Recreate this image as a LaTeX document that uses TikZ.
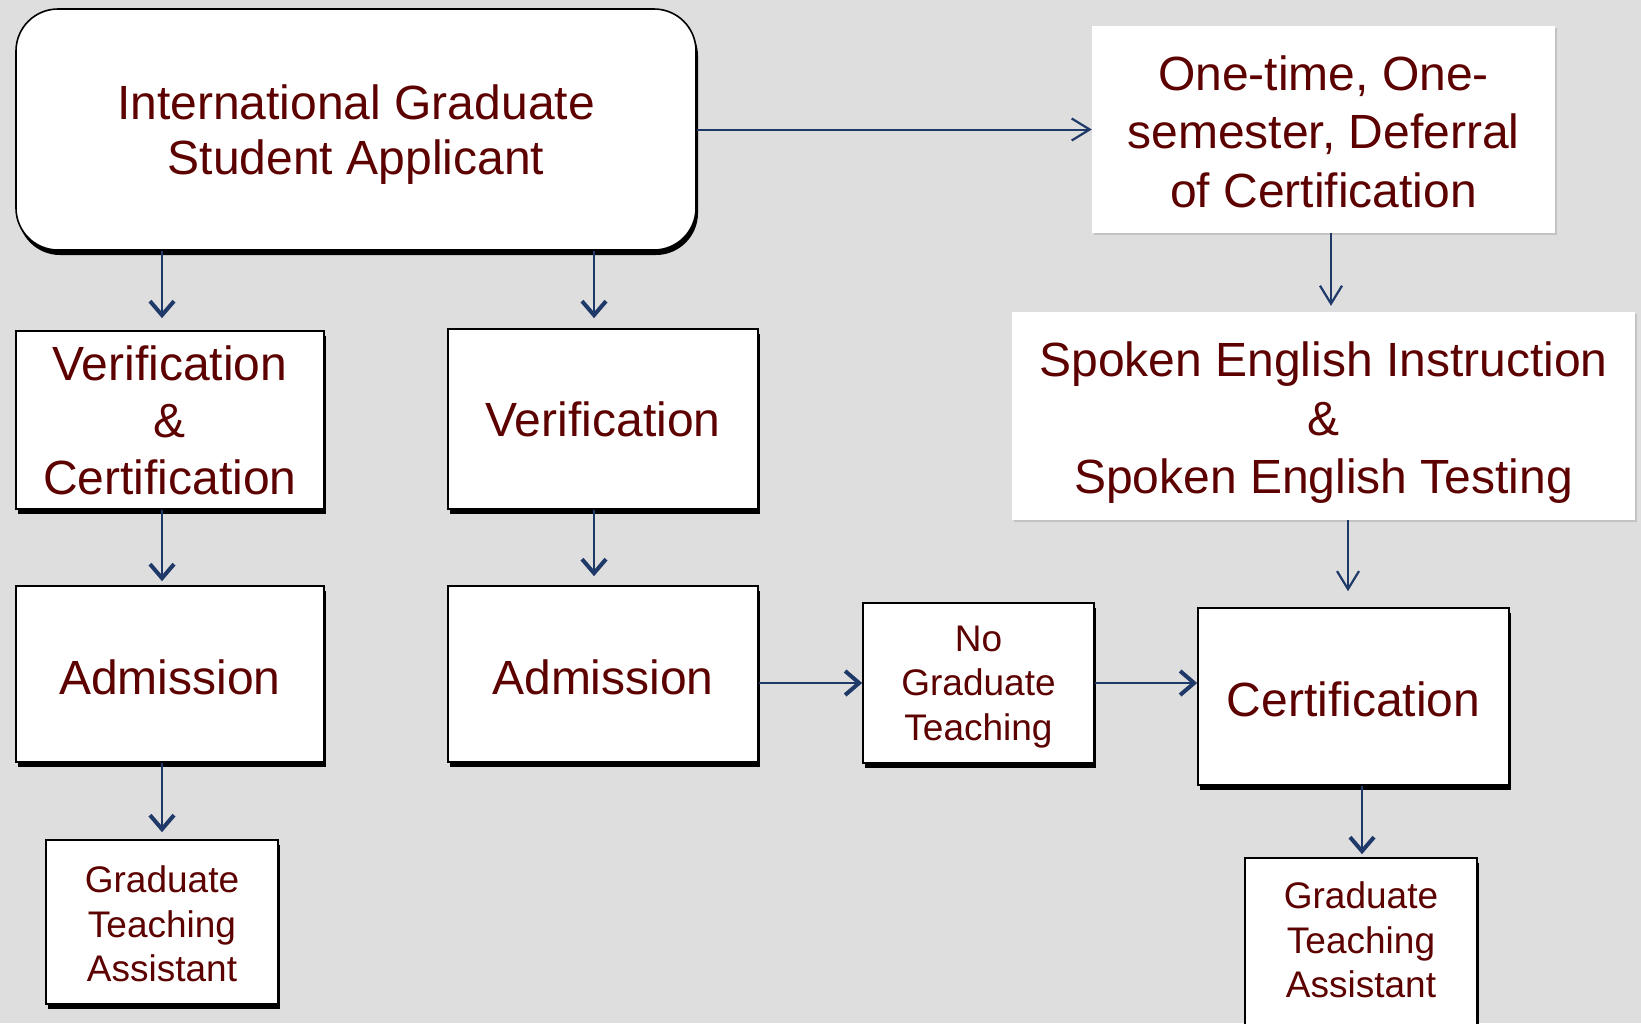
\documentclass[tikz,border=0pt]{standalone}
\usepackage{fontspec}
\setmainfont{Liberation Sans}
\usetikzlibrary{arrows.meta,shadows}
\definecolor{bg}{HTML}{DEDEDE}
\definecolor{txt}{HTML}{5C0000}
\definecolor{arrc}{HTML}{1F3A68}
\begin{document}
\begin{tikzpicture}[x=1pt,y=-1pt,
  bigtext/.style={font=\fontsize{48}{57}\selectfont},
  smalltext/.style={font=\fontsize{37}{44.5}\selectfont},
  bbox/.style={rectangle, draw=black, line width=1.6pt, fill=white,
    inner sep=0pt,
    drop shadow={shadow xshift=2pt, shadow yshift=-5pt, fill=black, opacity=1}},
  pbox/.style={rectangle, fill=white, inner sep=0pt,
    drop shadow={shadow xshift=2pt, shadow yshift=-2pt, fill=black, opacity=0.12}},
  lbl/.style={text=txt, align=center, inner sep=0pt},
  conn/.style={draw=arrc, line width=2.6pt, -{Straight Barb[length=14pt,width=24pt,line width=4pt]}},
  connthin/.style={draw=arrc, line width=2pt, -{Straight Barb[length=18pt,width=22pt,line width=2.2pt]}},
]
\fill[bg] (0,0) rectangle (1641,1023);
\useasboundingbox (0,0) rectangle (1641,1023);
\clip (0,0) rectangle (1641,1023);

% boxes
\node[bbox, rounded corners=42pt, minimum width=680pt, minimum height=241pt] (main) at (356,129.5) {};
\node[pbox, minimum width=463pt, minimum height=207pt] (defer) at (1323.5,129.5) {};
\node[pbox, minimum width=623pt, minimum height=208pt] (spoken) at (1323.5,416) {};
\node[bbox, minimum width=308pt, minimum height=178pt] (vc) at (170,420) {};
\node[bbox, minimum width=310pt, minimum height=180pt] (verif) at (603,419) {};
\node[bbox, minimum width=308pt, minimum height=176pt] (adm1) at (170,674) {};
\node[bbox, minimum width=310pt, minimum height=176pt] (adm2) at (603,674) {};
\node[bbox, minimum width=231pt, minimum height=160pt] (nogt) at (978.5,683) {};
\node[bbox, minimum width=311pt, minimum height=177pt] (cert) at (1353.5,696.5) {};
\node[bbox, minimum width=232pt, minimum height=164pt] (gta1) at (162,922) {};
\node[bbox, minimum width=232pt, minimum height=170pt] (gta2) at (1361,943) {};

% texts
\node[lbl, font=\fontsize{48}{55}\selectfont] (main-t) at ([yshift=-5pt]main.center)
  {International Graduate\\Student Applicant};
\node[lbl, font=\fontsize{48}{58.5}\selectfont] (defer-t) at ([yshift=-2pt]defer.center)
  {One-time, One-\\semester, Deferral\\of Certification};
\node[lbl, font=\fontsize{48}{58.5}\selectfont] (spoken-t) at ([yshift=-7pt]spoken.center)
  {Spoken English Instruction\\\&\\Spoken English Testing};
\node[lbl, bigtext] (vc-t) at (vc.center) {Verification\\\&\\Certification};
\node[lbl, bigtext] (verif-t) at (verif.center) {Verification};
\node[lbl, bigtext] (adm1-t) at ([yshift=-3pt]adm1.center) {Admission};
\node[lbl, bigtext] (adm2-t) at ([yshift=-3pt]adm2.center) {Admission};
\node[lbl, smalltext] (nogt-t) at ([yshift=-4pt]nogt.center) {No\\Graduate\\Teaching};
\node[lbl, bigtext] (cert-t) at ([yshift=-3pt]cert.center) {Certification};
\node[lbl, smalltext] (gta1-t) at ([yshift=-2pt]gta1.center) {Graduate\\Teaching\\Assistant};
\node[lbl, smalltext] (gta2-t) at ([yshift=3pt]gta2.center) {Graduate\\Teaching\\Assistant};

\coordinate (xa) at (162,0);
\coordinate (xb) at (594,0);
\coordinate (xc) at (1331,0);
\coordinate (xd) at (1348,0);
\coordinate (xe) at (1362,0);

\draw[connthin] (main.east) -- (defer.west);
\draw[conn, shorten >=12pt] (main.south -| xa) -- (vc.north -| xa);
\draw[conn, shorten >=10pt] (main.south -| xb) -- (verif.north -| xb);
\draw[conn, shorten >=4pt] (vc.south -| xa) -- (adm1.north -| xa);
\draw[conn, shorten >=9pt] (verif.south -| xb) -- (adm2.north -| xb);
\draw[conn, shorten >=7pt] (adm1.south -| xa) -- (gta1.north -| xa);
\draw[conn] (adm2.east |- nogt.west) -- (nogt.west);
\draw[conn] (nogt.east) -- (cert.west |- nogt.east);
\draw[connthin, shorten >=6pt] (defer.south -| xc) -- (spoken.north -| xc);
\draw[connthin, shorten >=16pt] (spoken.south -| xd) -- (cert.north -| xd);
\draw[conn, shorten >=3pt] (cert.south -| xe) -- (gta2.north -| xe);
\end{tikzpicture}
\end{document}
